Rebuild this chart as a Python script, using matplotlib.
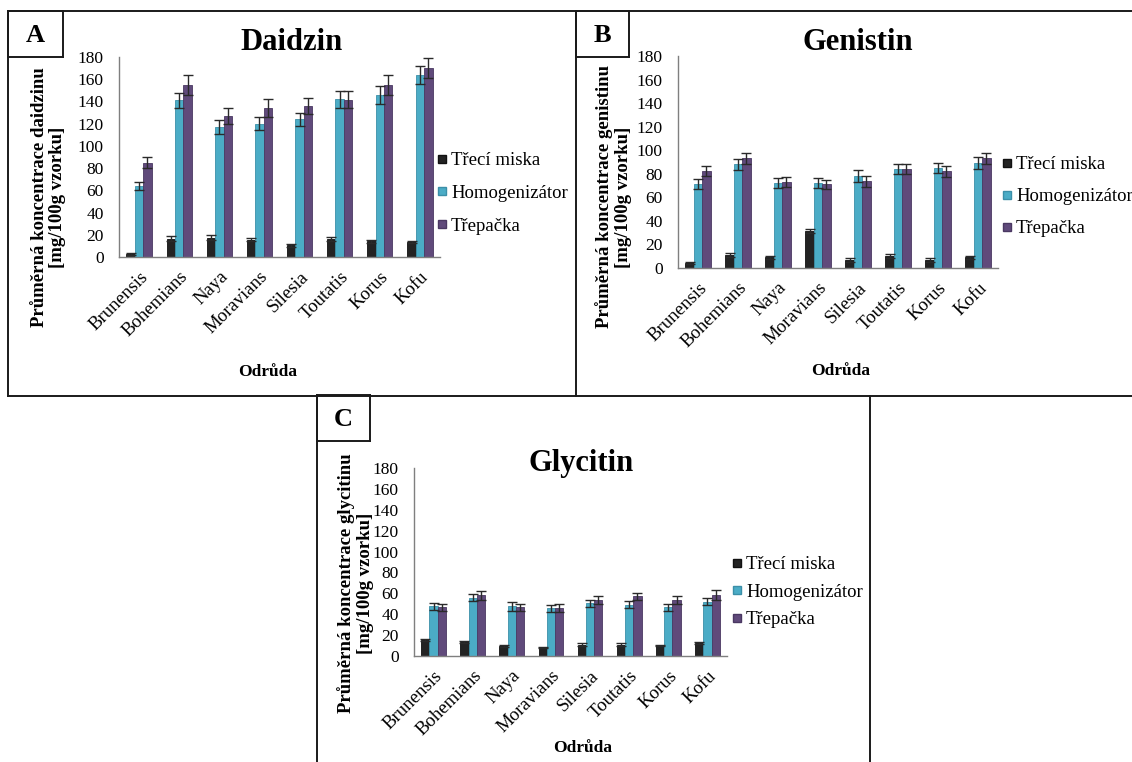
import matplotlib
matplotlib.use("Agg")
import matplotlib.pyplot as plt
from matplotlib.lines import Line2D
import numpy as np

plt.rcParams['font.family'] = ['Liberation Serif', 'DejaVu Serif']

W, H = 1132, 762

categories = ["Brunensis", "Bohemians", "Naya", "Moravians", "Silesia", "Toutatis", "Korus", "Kofu"]
series_names = ["Třecí miska", "Homogenizátor", "Třepačka"]
colors = ["#232323", "#4bacc6", "#604a7b"]
edge_colors = ["#111111", "#3b8fa8", "#4a3862"]
yticks = [0, 20, 40, 60, 80, 100, 120, 140, 160, 180]

# Daidzin
daidzin_trec = [3, 16.5, 17.5, 15.5, 10.5, 16, 14, 13.5]
daidzin_trec_err = [1, 2, 2, 1.5, 1.5, 2, 1.5, 0.5]
daidzin_homo = [64, 141, 117, 120, 124, 142, 145.5, 164]
daidzin_homo_err = [3.5, 7, 6.5, 6, 6, 7.5, 8, 8]
daidzin_trep = [85, 155, 127, 134, 136, 141.5, 155, 170.5]
daidzin_trep_err = [5, 9, 7, 8, 7.5, 7.5, 9, 9]

# Genistin
genistin_trec = [4, 11, 9, 31.5, 7, 10, 7, 9]
genistin_trec_err = [0.8, 1.5, 1, 2, 1.5, 1.5, 1.5, 1.5]
genistin_homo = [71.5, 88, 72, 72, 78, 84, 85, 89]
genistin_homo_err = [4, 4.5, 4, 4, 5, 4.5, 4, 5]
genistin_trep = [82.5, 93, 73, 71, 73.5, 84, 82, 93]
genistin_trep_err = [4.5, 5, 4, 3.5, 4.5, 4.5, 5, 5]

# Glycitin
glycitin_trec = [15.5, 13.5, 9.5, 8.5, 11, 11, 10, 12.5]
glycitin_trec_err = [0.8, 0.8, 0.8, 0.5, 1, 1, 0.5, 1]
glycitin_homo = [47.5, 56, 47.5, 45.5, 50.5, 49, 46.5, 52]
glycitin_homo_err = [3.5, 3.5, 4, 3.5, 3.5, 3.5, 3.5, 3.5]
glycitin_trep = [46.5, 58, 46.5, 46, 53.5, 57, 53.5, 58.5]
glycitin_trep_err = [3.5, 4, 3, 3.5, 3.5, 3, 3.5, 4.5]

fig = plt.figure(figsize=(W / 100, H / 100), dpi=100)


def fx(x):
    return x / W


def fy(y):
    return 1 - y / H


def line(x0, y0, x1, y1, lw=1.4):
    fig.add_artist(Line2D([fx(x0), fx(x1)], [fy(y0), fy(y1)], transform=fig.transFigure,
                          color="#1a1a1a", lw=lw, solid_capstyle='projecting'))


def box(x0, y0, x1, y1):
    line(x0, y0, x1, y0)
    line(x1, y0, x1, y1)
    line(x1, y1, x0, y1)
    line(x0, y1, x0, y0)


panels = [
    dict(letter="A", title="Daidzin", ylab="Průměrná koncentrace daidzinu\n[mg/100g vzorku]",
         data=[(daidzin_trec, daidzin_trec_err), (daidzin_homo, daidzin_homo_err), (daidzin_trep, daidzin_trep_err)],
         ax=(119, 440, 57, 257), title_xy=(292, 43), xlab_xy=(268, 372), ylab_xy=(48.5, 197),
         leg_xy=(436, 152), leg_sp=0.84, lbox=(8, 11, 63, 57)),
    dict(letter="B", title="Genistin", ylab="Průměrná koncentrace genistinu\n[mg/100g vzorku]",
         data=[(genistin_trec, genistin_trec_err), (genistin_homo, genistin_homo_err), (genistin_trep, genistin_trep_err)],
         ax=(678, 998, 56, 268), title_xy=(858, 43), xlab_xy=(841, 371), ylab_xy=(613.5, 197),
         leg_xy=(1001, 156), leg_sp=0.80, lbox=(576, 11, 629, 57)),
    dict(letter="C", title="Glycitin", ylab="Průměrná koncentrace glycitinu\n[mg/100g vzorku]",
         data=[(glycitin_trec, glycitin_trec_err), (glycitin_homo, glycitin_homo_err), (glycitin_trep, glycitin_trep_err)],
         ax=(414, 727, 468, 656), title_xy=(581, 464), xlab_xy=(583, 748), ylab_xy=(355.5, 583),
         leg_xy=(731, 556), leg_sp=0.56, lbox=(317, 395, 370, 441)),
]

# outer frames
box(8, 11, 576, 396)
line(576, 11, 1140, 11)
line(576, 396, 1140, 396)
line(317, 396, 317, 770)
line(870, 396, 870, 770)

x = np.arange(len(categories))
w = 0.21

for p in panels:
    l, r, t, b = p["ax"]
    ax = fig.add_axes([fx(l), fy(b), (r - l) / W, (b - t) / H])
    for k, (vals, errs) in enumerate(p["data"]):
        ax.bar(x + (k - 1) * w, vals, width=w, color=colors[k], edgecolor=edge_colors[k], linewidth=0.6,
               yerr=errs, error_kw=dict(ecolor="#2a2a2a", elinewidth=1.0, capsize=3.3, capthick=1.0),
               label=series_names[k], zorder=2)
    ax.set_ylim(0, 180)
    ax.set_xlim(-0.5, len(categories) - 0.5)
    ax.set_yticks(yticks)
    ax.set_xticks(x)
    ax.set_xticklabels(categories, rotation=45, ha='right', va='top', rotation_mode='anchor')
    ax.tick_params(axis='y', length=0, pad=11, labelsize=12.5)
    ax.tick_params(axis='x', length=0, pad=8, labelsize=13.5)
    for s in ["top", "right"]:
        ax.spines[s].set_visible(False)
    for s in ["left", "bottom"]:
        ax.spines[s].set_color("#7f7f7f")
        ax.spines[s].set_linewidth(1.0)
    ax.patch.set_alpha(0)

    handles = [Line2D([], [], marker='s', linestyle='none', markersize=6,
                      markerfacecolor=colors[k], markeredgecolor=edge_colors[k]) for k in range(3)]
    ax.legend(handles, series_names, loc='upper left',
              bbox_to_anchor=(fx(p["leg_xy"][0]), fy(p["leg_xy"][1])), bbox_transform=fig.transFigure,
              frameon=False, handlelength=0.6, handletextpad=0.2, labelspacing=p["leg_sp"],
              borderpad=0, borderaxespad=0, fontsize=13.5)

    fig.text(fx(p["title_xy"][0]), fy(p["title_xy"][1]), p["title"], ha='center', va='center',
             fontsize=22, fontweight='bold')
    fig.text(fx(p["xlab_xy"][0]), fy(p["xlab_xy"][1]), "Odrůda", ha='center', va='center',
             fontsize=12.5, fontweight='bold')
    fig.text(fx(p["ylab_xy"][0]), fy(p["ylab_xy"][1]), p["ylab"], ha='center', va='center',
             rotation=90, fontsize=13.5, fontweight='bold', multialignment='center', linespacing=1.15)
    bx0, by0, bx1, by1 = p["lbox"]
    box(bx0, by0, bx1, by1)
    fig.text(fx((bx0 + bx1) / 2), fy((by0 + by1) / 2 + 1), p["letter"], ha='center', va='center',
             fontsize=19, fontweight='bold')

fig.savefig("out.png", dpi=100, facecolor="white")
